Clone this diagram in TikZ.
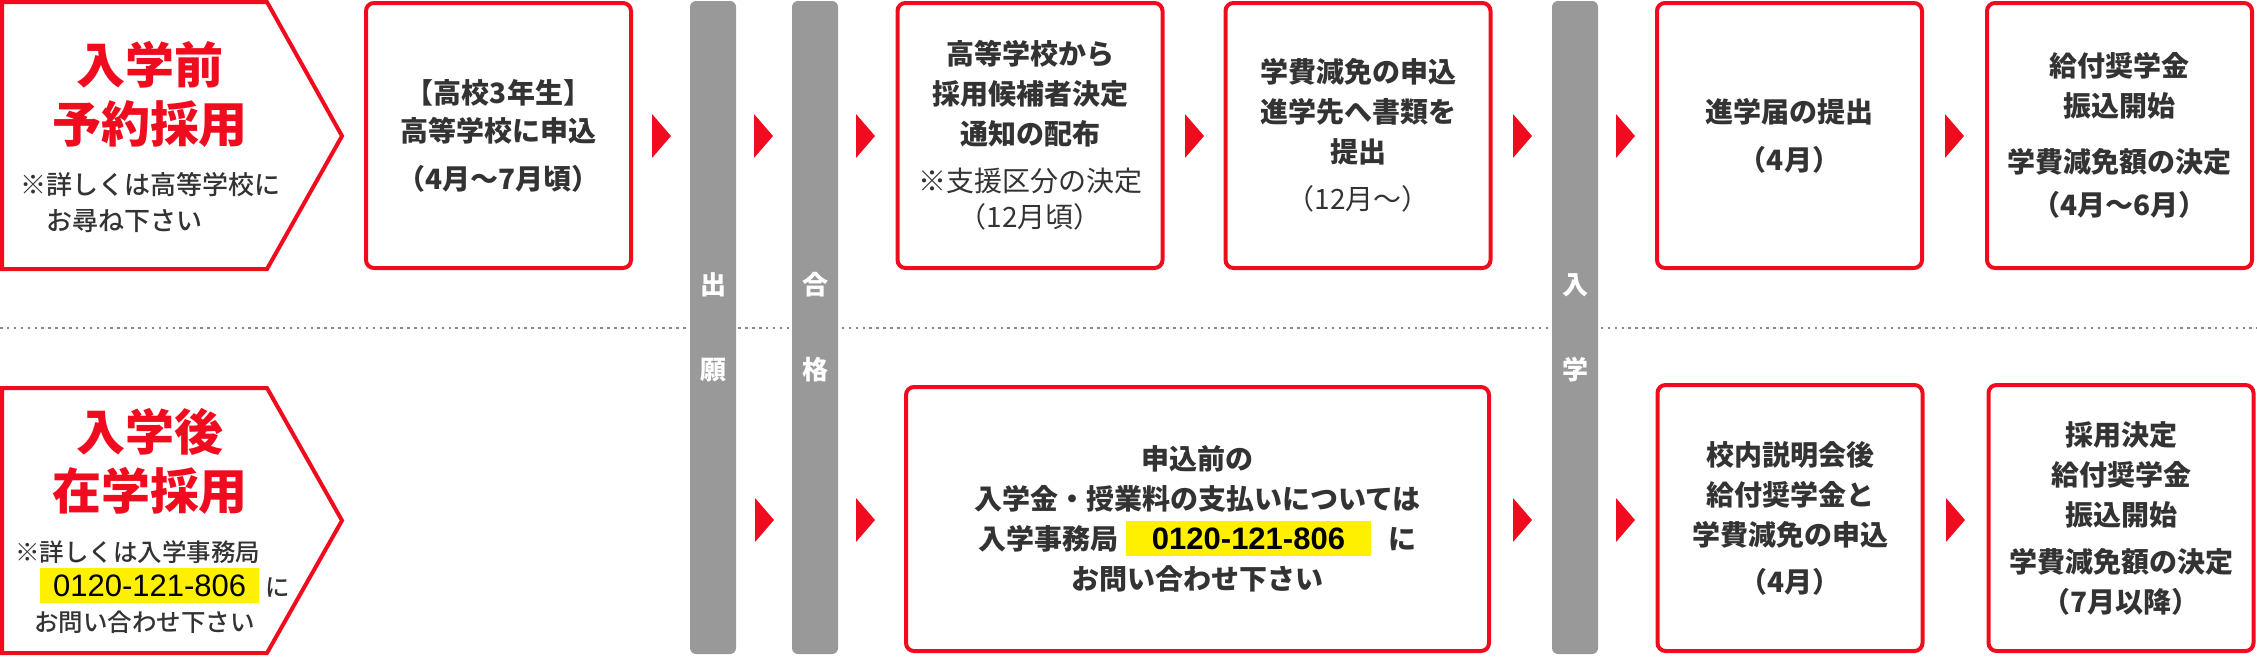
\documentclass[tikz,border=0pt]{standalone}
\usepackage{fontspec}
\setmainfont{Noto Sans CJK JP}
\newfontfamily\jpmed{Noto Sans CJK JP Medium}
\newfontfamily\telfont{Liberation Sans}

\definecolor{jred}{RGB}{240,12,30}
\definecolor{jgray}{HTML}{999999}
\definecolor{jtext}{HTML}{333333}
\definecolor{jyellow}{HTML}{FFF000}
\definecolor{jdot}{HTML}{888888}

\newcommand{\telno}[2]{{\setlength{\fboxsep}{0pt}\colorbox{jyellow}{\rule[-#2]{0pt}{35pt}\hspace{#1}{\telfont\fontsize{31}{31}\selectfont\color{black}0120-121-806}\hspace{#1}}}}

\begin{document}
\begin{tikzpicture}[x=1pt,y=-1pt,
  redbox/.style={draw=jred,line width=4pt,rounded corners=8pt,minimum width=265pt,minimum height=265pt,
    text=jtext,align=center,inner sep=0pt,font=\bfseries\fontsize{28}{40}\selectfont},
  gatebar/.style={fill=jgray,rounded corners=6pt},
  gatelabel/.style={text=white,inner sep=0pt,font=\bfseries\fontsize{26}{26}\selectfont},
  headline/.style={text=jred,align=center,inner sep=0pt,font=\bfseries\fontsize{49}{59}\selectfont},
  notetext/.style={text=jtext,align=left,inner sep=0pt,anchor=west}]
\useasboundingbox (0,0) rectangle (2257,656);

\draw[jdot,line width=2.5pt,dash pattern=on 2.5pt off 4.4pt] (0,328) -- (2257,328);

\draw[jred,line width=4pt] (2,2) -- (267,2) -- (342,136) -- (267,269) -- (2,269) -- cycle;
\node[headline] (pre) at (150,94) {入学前\\予約採用};
\node[notetext,font=\jpmed\fontsize{26}{36}\selectfont] (prenote) at (20,203) {※詳しくは高等学校に\\\hspace*{1em}お尋ね下さい};

\draw[jred,line width=4pt] (2,388) -- (267,388) -- (342,520.5) -- (267,653) -- (2,653) -- cycle;
\node[headline] (post) at (150,461) {入学後\\在学採用};
\node[notetext,font=\jpmed\fontsize{24.5}{35}\selectfont] (postnote) at (15,587) {※詳しくは入学事務局\\\hspace*{25pt}\telno{13pt}{7pt}\hspace{6pt}に\\\hspace*{19pt}お問い合わせ下さい};

\fill[gatebar] (690,1) rectangle (736,654);
\fill[gatebar] (792,1) rectangle (838,654);
\fill[gatebar] (1552,1) rectangle (1598,654);
\node[gatelabel] (g1a) at (713,285) {出};
\node[gatelabel] (g1b) at (713,370) {願};
\node[gatelabel] (g2a) at (815,285) {合};
\node[gatelabel] (g2b) at (815,370) {格};
\node[gatelabel] (g3a) at (1575,285) {入};
\node[gatelabel] (g3b) at (1575,370) {学};

\node[redbox] (b1) at (498.5,135.5) {【高校3年生】\\[-2pt]高等学校に申込\\[8pt]{\jpmed （4月〜7月頃）}};
\node[redbox] (b2) at (1030,135.5) {高等学校から\\採用候補者決定\\通知の配布\\[7pt]{\mdseries ※支援区分の決定}\\[-4pt]{\mdseries （12月頃）}};
\node[redbox] (b3) at (1358,135.5) {学費減免の申込\\進学先へ書類を\\提出\\[7pt]{\mdseries （12月〜）}};
\node[redbox] (b4) at (1789.5,135.5) {進学届の提出\\[8pt]{\jpmed （4月）}};
\node[redbox] (b5) at (2119.5,135.5) {給付奨学金\\振込開始\\[16pt]学費減免額の決定\\[3pt]{\jpmed （4月〜6月）}};

\node[redbox,minimum width=583pt,minimum height=264pt] (c1) at (1197.5,519) {申込前の\\入学金・授業料の支払いについては\\入学事務局\hspace{7pt}\telno{26pt}{6pt}\hspace{17pt}に\\お問い合わせ下さい};
\node[redbox,minimum height=266pt] (c2) at (1790,518) {校内説明会後\\給付奨学金と\\学費減免の申込\\[7pt]{\jpmed （4月）}};
\node[redbox,minimum height=266pt] (c3) at (2121,518) {採用決定\\給付奨学金\\振込開始\\[7pt]学費減免額の決定\\{\jpmed （7月以降）}};

\foreach \x/\y in {652/136,754/136,856/136,1185/136,1513/136,1616/136,1945/136,
                   755/520,856/520,1513/520,1616/520,1946/520}
  \fill[jred] (\x,\y-22) -- (\x+19,\y) -- (\x,\y+22) -- cycle;
\end{tikzpicture}
\end{document}
